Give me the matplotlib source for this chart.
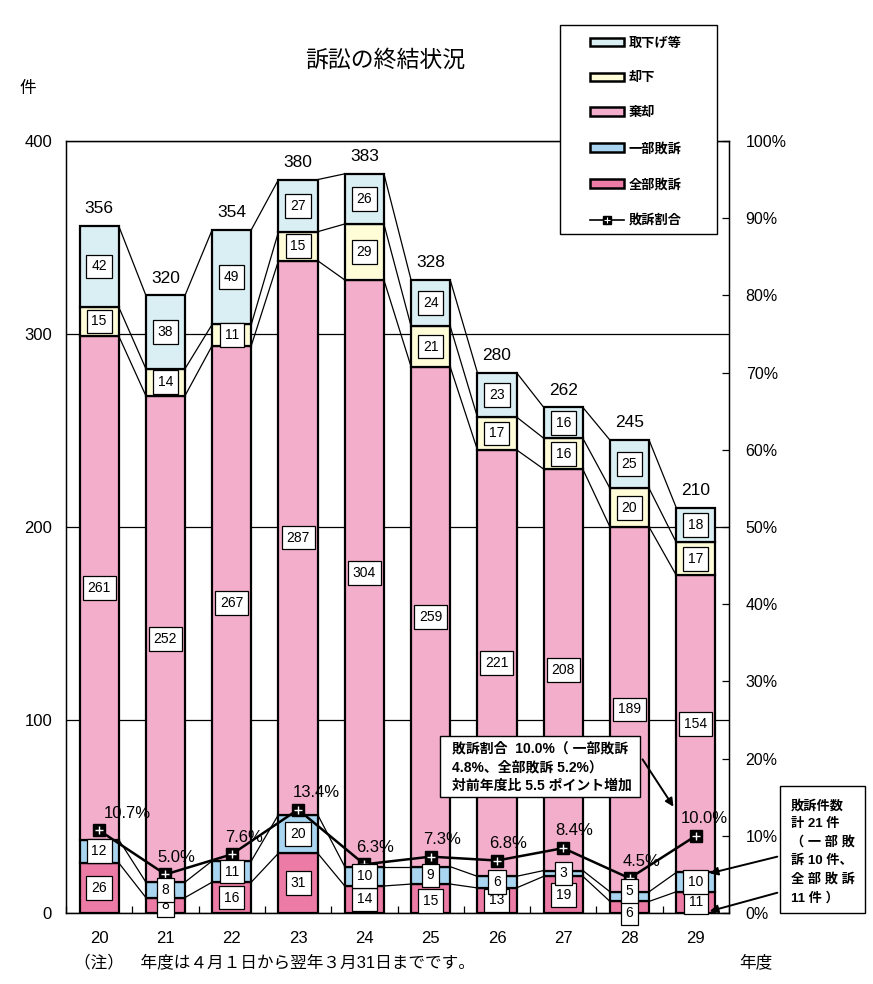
import matplotlib
matplotlib.use("Agg")
import matplotlib.pyplot as plt
import numpy as np
from matplotlib.patches import Patch, Rectangle
from matplotlib.lines import Line2D
from matplotlib.legend_handler import HandlerTuple

plt.rcParams['font.family'] = ['Liberation Sans', 'Noto Sans CJK JP']

# Data
years = ["20", "21", "22", "23", "24", "25", "26", "27", "28", "29"]
zenbu = [26, 8, 16, 31, 14, 15, 13, 19, 6, 11]          # 全部敗訴
ichibu = [12, 8, 11, 20, 10, 9, 6, 3, 5, 10]            # 一部敗訴
kikyaku = [261, 252, 267, 287, 304, 259, 221, 208, 189, 154]  # 棄却
kyakka = [15, 14, 11, 15, 29, 21, 17, 16, 20, 17]       # 却下
torisage = [42, 38, 49, 27, 26, 24, 23, 16, 25, 18]     # 取下げ等
ratio = [10.7, 5.0, 7.6, 13.4, 6.3, 7.3, 6.8, 8.4, 4.5, 10.0]  # 敗訴割合 (%)

series = [zenbu, ichibu, kikyaku, kyakka, torisage]
names = ["全部敗訴", "一部敗訴", "棄却", "却下", "取下げ等"]
colors = ["#EC7CA5", "#A9D5F0", "#F3AECB", "#FFFDD8", "#DAEFF4"]

W, H = 873, 984
fx = lambda px: px / W
fy = lambda py: 1 - py / H

fig = plt.figure(figsize=(8.73, 9.84), dpi=100)
ax = fig.add_axes([fx(66), fy(913), (729 - 66) / W, (913 - 141) / H])
ax2 = ax.twinx()

x = np.arange(len(years))
bw = 0.59
data = np.array(series)
cum = np.cumsum(data, axis=0)
bottoms = cum - data
totals = cum[-1]

ax.set_axisbelow(True)
ax.yaxis.grid(True, color="black", lw=0.9)
for k in range(len(series)):
    ax.bar(x, data[k], bw, bottom=bottoms[k], color=colors[k],
           edgecolor="black", lw=1.6, zorder=3)

# series lines between bars
for k in range(len(series)):
    for i in range(len(x) - 1):
        ax.plot([x[i] + bw / 2, x[i + 1] - bw / 2], [cum[k, i], cum[k, i + 1]],
                color="black", lw=0.9, zorder=2)

ax.set_xlim(-0.5, len(x) - 0.5)
ax.set_ylim(0, 400)
ax.set_yticks([0, 100, 200, 300, 400])
ax.set_xticks(x)
ax.set_xticklabels(years)
ax.set_xticks(np.arange(-0.5, len(x), 1), minor=True)
ax.tick_params(axis="x", which="major", length=0, pad=13, labelsize=12)
ax.tick_params(axis="x", which="minor", direction="in", length=5, width=0.9)
ax.tick_params(axis="y", length=0, pad=10, labelsize=12)
for s in ax.spines.values():
    s.set_linewidth(1.0)

# ratio line on right axis
ax2.set_ylim(0, 100)
ax2.set_yticks(np.arange(0, 101, 10))
ax2.set_yticklabels([f"{v}%" for v in range(0, 101, 10)])
ax2.tick_params(axis="y", direction="in", length=5, width=0.9, pad=12, labelsize=11.5)
ax2.plot(x, ratio, color="black", lw=1.8, zorder=4)
ax2.plot(x, ratio, ls="none", marker="s", ms=8.5, color="black", zorder=5)
ax2.plot(x, ratio, ls="none", marker="+", ms=5.5, mew=1.0, color="white", zorder=6)

dx = [20, 8, 9, 13, 8, 8, 8, 8, 9, 6]
for i, r in enumerate(ratio):
    ax2.annotate(f"{r:.1f}%", (x[i], r), xytext=(dx[i], 7), textcoords="offset points",
                 ha="center", va="bottom", fontsize=12, zorder=7)

# segment value labels (drawn on top axis, in bar data coords)
nudge = {(8, 0): -4, (8, 1): 4, (5, 0): -2}  # (bar, series): points
for k in range(len(series)):
    for i in range(len(x)):
        yc = bottoms[k, i] + data[k, i] / 2
        ax2.annotate(str(data[k, i]), (x[i], yc), xycoords=ax.transData,
                     xytext=(0, nudge.get((i, k), 0)), textcoords="offset points",
                     ha="center", va="center", fontsize=10, zorder=8,
                     bbox=dict(boxstyle="square,pad=0.35", fc="white", ec="black", lw=0.9))

for i, t in enumerate(totals):
    ax2.annotate(str(t), (x[i], t), xycoords=ax.transData, xytext=(0, 7),
                 textcoords="offset points", ha="center", va="bottom", fontsize=12.5)

# texts
fig.text(fx(385), fy(60), "訴訟の終結状況", ha="center", va="center", fontsize=16.5)
fig.text(fx(28), fy(88), "件", ha="center", va="center", fontsize=12)
fig.text(fx(756), fy(962), "年度", ha="center", va="center", fontsize=12)
fig.text(fx(74), fy(963), "（注）　年度は４月１日から翌年３月31日までです。",
         ha="left", va="center", fontsize=12)

# legend (frame drawn separately)
fig.add_artist(Rectangle((fx(560), fy(234)), 157 / W, 209 / H, transform=fig.transFigure,
                         fc="white", ec="black", lw=1.0, zorder=9))
handles = [Patch(fc=colors[k], ec="black", lw=1.8) for k in [4, 3, 2, 1, 0]]
marker_h = (Line2D([], [], color="black", lw=1.2, marker="s", ms=6),
            Line2D([], [], ls="none", marker="+", ms=4.5, mew=0.8, color="white"))
labels = ["取下げ等", "却下", "棄却", "一部敗訴", "全部敗訴", "敗訴割合"]
leg = fig.legend(handles + [marker_h], labels, loc="upper left",
                 bbox_to_anchor=(fx(590), fy(37)), borderaxespad=0, borderpad=0,
                 fontsize=9.5, handlelength=2.6, handleheight=0.6, handletextpad=0.3,
                 labelspacing=1.74, frameon=False,
                 handler_map={tuple: HandlerTuple(ndivide=1, pad=0)})
leg.set_zorder(10)
for t in leg.get_texts():
    t.set_fontweight("bold")

# annotation boxes
fig.add_artist(Rectangle((fx(440), fy(797)), 200 / W, 61 / H, transform=fig.transFigure,
                         fc="white", ec="black", lw=1.0, zorder=10))
fig.text(fx(452), fy(767), "敗訴割合  10.0%（ 一部敗訴\n4.8%、全部敗訴 5.2%）\n対前年度比 5.5 ポイント増加",
         ha="left", va="center", fontsize=10, fontweight="bold", linespacing=1.45, zorder=11)
fig.add_artist(Rectangle((fx(780), fy(913)), 85 / W, 127 / H, transform=fig.transFigure,
                         fc="white", ec="black", lw=1.0, zorder=10))
fig.text(fx(791), fy(852), "敗訴件数\n計 21 件\n（ 一 部 敗\n訴 10 件、\n全 部 敗 訴\n11 件 ）",
         ha="left", va="center", fontsize=9.5, fontweight="bold", linespacing=1.6, zorder=11)

arrow = dict(arrowstyle="-|>", color="black", lw=1.4, mutation_scale=12)
ax2.annotate("", xy=(fx(675), fy(809)), xycoords="figure fraction",
             xytext=(fx(641), fy(757)), textcoords="figure fraction", arrowprops=arrow)
ax2.annotate("", xy=(fx(707), fy(874)), xycoords="figure fraction",
             xytext=(fx(780), fy(856)), textcoords="figure fraction", arrowprops=arrow)
ax2.annotate("", xy=(fx(707), fy(912)), xycoords="figure fraction",
             xytext=(fx(780), fy(892)), textcoords="figure fraction", arrowprops=arrow)

fig.savefig("out.png", dpi=100)
